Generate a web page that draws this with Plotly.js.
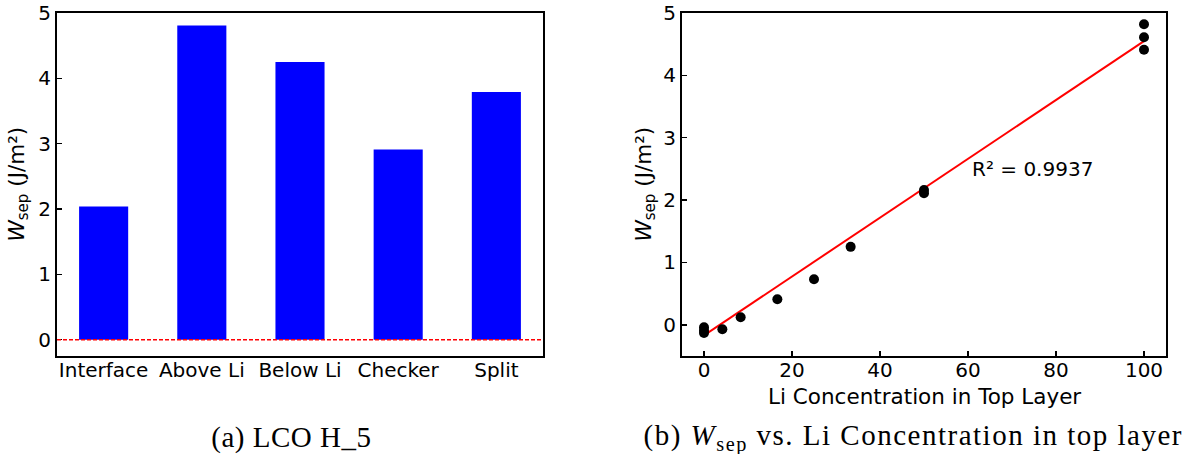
<!DOCTYPE html>
<html>
<head>
<meta charset="utf-8">
<script src="https://cdn.plot.ly/plotly-3.0.1.min.js"></script>
<style>
  html, body { margin: 0; padding: 0; background: #fff; }
  #chart { width: 1187px; height: 454px; }
</style>
</head>
<body>
<div id="chart"></div>
<script>
// (a) separation work per Li arrangement
const arrangements = ['Interface', 'Above Li', 'Below Li', 'Checker', 'Split'];
const wsepArrangement = [2.04, 4.81, 4.25, 2.91, 3.79];

// (b) separation work against Li concentration in the top layer (%)
const liConcentration = [0, 0, 0, 4.17, 8.33, 16.67, 25, 33.33, 50, 50, 100, 100, 100];
const wsepConcentration = [-0.04, -0.09, -0.13, -0.07, 0.12, 0.41, 0.73, 1.25, 2.11, 2.16, 4.82, 4.61, 4.41];

// linear fit shown in (b)
const fitSlope = 0.0472;
const fitIntercept = -0.17;
const fitR2 = 0.9937;
const fitX = [0, 100];
const fitY = fitX.map(x => fitIntercept + fitSlope * x);

const W = 1187, H = 454;
const px = v => v / W;
const py = v => 1 - v / H;

const tickFont = { family: 'DejaVu Sans', size: 20, color: '#000' };
const titleFont = { family: 'DejaVu Sans', size: 21.5, color: '#000' };
const captionFont = { family: 'Liberation Serif', size: 29, color: '#000' };
const wsepTitle = '<i>W</i><sub>sep</sub> (J/m²)';
const captionA = '(a) LCO H_5';
const captionB = '(b) <i>W</i><sub>sep</sub> vs. Li Concentration in top layer';

const frame = {
  showline: true, linecolor: '#000', linewidth: 2, mirror: true,
  showgrid: false, zeroline: false, tickfont: tickFont
};
const inTicks = { ticks: 'inside', ticklen: 5, tickwidth: 1.5, tickcolor: '#000' };

const traces = [
  {
    type: 'bar', x: arrangements, y: wsepArrangement,
    xaxis: 'x', yaxis: 'y', width: 0.5,
    marker: { color: '#0000ff', line: { width: 0 } }
  },
  {
    type: 'scatter', mode: 'lines', x: fitX, y: fitY,
    xaxis: 'x2', yaxis: 'y2',
    line: { color: '#ff0000', width: 2 }
  },
  {
    type: 'scatter', mode: 'markers', x: liConcentration, y: wsepConcentration,
    xaxis: 'x2', yaxis: 'y2',
    marker: { color: '#000', size: 10 }
  }
];

// panel frames in page pixels
const panelA = { left: 57, right: 543 };
const panelB = { left: 682, right: 1166 };
const panelTop = 13, panelBottom = 356;

const layout = {
  width: W, height: H,
  margin: { l: 0, r: 0, t: 0, b: 0 },
  paper_bgcolor: '#fff', plot_bgcolor: '#fff',
  showlegend: false,
  font: { family: 'DejaVu Sans', color: '#000' },
  xaxis: Object.assign({}, frame, {
    domain: [px(panelA.left), px(panelA.right)],
    type: 'category', range: [-0.475, 4.475],
    ticks: '', anchor: 'y', ticklabelstandoff: -5
  }),
  yaxis: Object.assign({}, frame, inTicks, {
    domain: [py(panelBottom), py(panelTop)],
    range: [-0.25, 5], tickvals: [0, 1, 2, 3, 4, 5],
    anchor: 'x'
  }),
  xaxis2: Object.assign({}, frame, inTicks, {
    domain: [px(panelB.left), px(panelB.right)],
    range: [-5, 105], tickvals: [0, 20, 40, 60, 80, 100],
    anchor: 'y2', ticklabelstandoff: -5
  }),
  yaxis2: Object.assign({}, frame, inTicks, {
    domain: [py(panelBottom), py(panelTop)],
    range: [-0.5, 5], tickvals: [0, 1, 2, 3, 4, 5],
    anchor: 'x2'
  }),
  shapes: [
    {
      type: 'line', xref: 'x domain', yref: 'y',
      x0: 0, x1: 1, y0: 0, y1: 0,
      line: { color: '#ff0000', width: 1.5, dash: '4px,2px' }
    }
  ],
  annotations: [
    // axis titles
    {
      xref: 'paper', yref: 'paper', x: px(18), y: py((panelTop + panelBottom) / 2),
      xanchor: 'center', yanchor: 'middle', textangle: -90, showarrow: false,
      text: wsepTitle, font: titleFont
    },
    {
      xref: 'paper', yref: 'paper', x: px(645), y: py((panelTop + panelBottom) / 2),
      xanchor: 'center', yanchor: 'middle', textangle: -90, showarrow: false,
      text: wsepTitle, font: titleFont
    },
    {
      xref: 'paper', yref: 'paper', x: px((panelB.left + panelB.right) / 2), y: py(396),
      xanchor: 'center', yanchor: 'middle', showarrow: false,
      text: 'Li Concentration in Top Layer', font: titleFont
    },
    // fit quality
    {
      xref: 'x2', yref: 'y2', x: 60.5, y: 2.5,
      xanchor: 'left', yanchor: 'middle', showarrow: false,
      text: 'R² = ' + fitR2.toFixed(4),
      font: { family: 'DejaVu Sans', size: 20, color: '#000' }
    },
    // sub-figure captions
    {
      xref: 'paper', yref: 'paper', x: px(291), y: py(437),
      xanchor: 'center', yanchor: 'middle', showarrow: false,
      text: captionA, font: captionFont
    },
    {
      xref: 'paper', yref: 'paper', x: px(913), y: py(437),
      xanchor: 'center', yanchor: 'middle', showarrow: false,
      text: captionB, font: captionFont
    }
  ]
};

Plotly.newPlot('chart', traces, layout, { staticPlot: true, displayModeBar: false }).then(gd => {
  // widen the serif captions a little so they read like the typeset originals
  gd.querySelectorAll('.annotation-text').forEach(t => {
    const s = t.textContent;
    if (s.startsWith('(a)')) t.style.letterSpacing = '0.5px';
    if (s.startsWith('(b)')) t.style.letterSpacing = '1.5px';
  });
});
</script>
</body>
</html>
